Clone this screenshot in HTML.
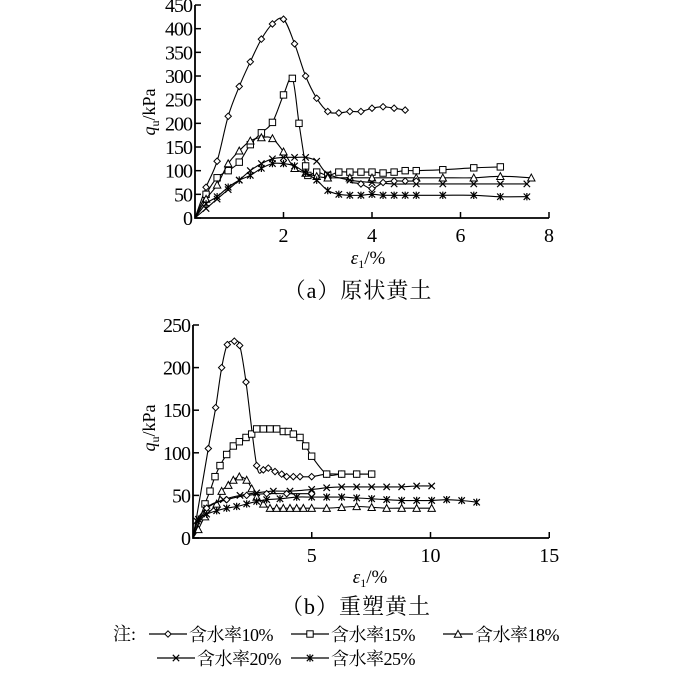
<!DOCTYPE html>
<html><head><meta charset="utf-8"><style>
html,body{margin:0;padding:0;background:#fff;}
svg{display:block;}
text{font-family:"Liberation Serif","Noto Serif CJK SC",serif;fill:#000;}
</style></head><body>
<svg id="s" width="700" height="675" viewBox="0 0 700 675" xmlns="http://www.w3.org/2000/svg">
<g id="g"></g>
</svg>
<script>
const NS="http://www.w3.org/2000/svg";const g=document.getElementById('g');
function el(t,a,txt){const e=document.createElementNS(NS,t);for(const k in a)e.setAttribute(k,a[k]);if(txt!==undefined)e.textContent=txt;g.appendChild(e);return e;}
function marker(type,x,y){const s=3.2;
 if(type=='d')el('polygon',{points:`${x},${y-s} ${x+s},${y} ${x},${y+s} ${x-s},${y}`,fill:'#fff',stroke:'#000','stroke-width':1});
 if(type=='s')el('rect',{x:x-s,y:y-s,width:2*s,height:2*s,fill:'#fff',stroke:'#000','stroke-width':1});
 if(type=='t')el('polygon',{points:`${x},${y-s-0.5} ${x+s+0.5},${y+s} ${x-s-0.5},${y+s}`,fill:'#fff',stroke:'#000','stroke-width':1});
 if(type=='x'){el('path',{d:`M${x-s},${y-s}L${x+s},${y+s}M${x+s},${y-s}L${x-s},${y+s}`,stroke:'#000','stroke-width':1.2});}
 if(type=='*'){el('path',{d:`M${x-s},${y-s}L${x+s},${y+s}M${x+s},${y-s}L${x-s},${y+s}M${x},${y-s-0.5}L${x},${y+s+0.5}`,stroke:'#000','stroke-width':1.2});}
}
function series(pts,type,X,Y){
 const p=pts.map(q=>[X(q[0]),Y(q[1])]);
 let d='M'+p[0][0]+','+p[0][1];
 for(let i=0;i<p.length-1;i++){const p0=p[i-1]||p[i],p1=p[i],p2=p[i+1],p3=p[i+2]||p2;
  const c1=[p1[0]+(p2[0]-p0[0])/6,p1[1]+(p2[1]-p0[1])/6],c2=[p2[0]-(p3[0]-p1[0])/6,p2[1]-(p3[1]-p1[1])/6];
  d+=`C${c1[0].toFixed(1)},${c1[1].toFixed(1)} ${c2[0].toFixed(1)},${c2[1].toFixed(1)} ${p2[0].toFixed(1)},${p2[1].toFixed(1)}`;}
 el('path',{d:d,fill:'none',stroke:'#000','stroke-width':1.1});
 p.forEach((q,i)=>{if(i>0)marker(type,q[0],q[1]);});
}
function axes(x0,y0,x1,y1,xt,yt,X,Y){
 el('path',{d:`M${x0},${y1}L${x0},${y0}L${x1},${y0}`,stroke:'#000','stroke-width':1.8,fill:'none'});
 xt.forEach(v=>{const x=X(v);el('line',{x1:x,y1:y0,x2:x,y2:y0-6,stroke:'#000','stroke-width':1.5});el('text',{x:x,y:y0+24,'text-anchor':'middle','font-size':20},String(v));});
 yt.forEach(v=>{const y=Y(v);el('line',{x1:x0,y1:y,x2:x0+6,y2:y,stroke:'#000','stroke-width':1.5});el('text',{x:x0-3,y:y+7,'text-anchor':'end','font-size':20,'letter-spacing':-1},String(v));});
}
// TOP
{const X=v=>195+v*44.25,Y=v=>218-v*0.4733;
 axes(195,218,549,5,[2,4,6,8],[0,50,100,150,200,250,300,350,400,450],X,Y);
 series([[0,0],[0.25,65],[0.5,120],[0.75,215],[1,278],[1.25,330],[1.5,378],[1.75,410],[2,420],[2.25,368],[2.5,300],[2.75,253],[3,225],[3.25,222],[3.5,225],[3.75,225],[4,232],[4.25,235],[4.5,232],[4.75,228]],'d',X,Y);
 series([[0,0],[0.25,50],[0.5,85],[0.75,100],[1,118],[1.25,155],[1.5,180],[1.75,202],[2,260],[2.2,295],[2.35,200],[2.5,110],[2.55,90],[2.75,97],[3,90],[3.25,97],[3.5,97],[3.75,97],[4,97],[4.25,95],[4.5,97],[4.75,100],[5,100],[5.6,102],[6.3,106],[6.9,108]],'s',X,Y);
 series([[0,0],[0.25,40],[0.5,70],[0.75,115],[1,142],[1.25,163],[1.5,170],[1.75,168],[2,140],[2.25,105],[2.5,95],[2.75,88],[3,85],[3.5,85],[4,85],[5,85],[5.6,85],[6.3,85],[6.9,88],[7.6,85]],'t',X,Y);
 series([[0,0],[0.25,20],[0.5,40],[0.75,60],[1,80],[1.25,100],[1.5,115],[1.75,125],[2,128],[2.25,128],[2.5,128],[2.75,120],[3,93],[3.5,80],[4,75],[4.5,72],[5,72],[5.6,72],[6.3,72],[6.9,72],[7.5,72]],'x',X,Y);
 series([[0,0],[0.25,30],[0.5,45],[0.75,65],[1,80],[1.25,90],[1.5,105],[1.75,115],[2,115],[2.25,110],[2.5,95],[2.75,80],[3,58],[3.25,50],[3.5,48],[3.75,48],[4,50],[4.25,48],[4.5,48],[4.75,48],[5,48],[5.6,48],[6.3,48],[6.9,45],[7.5,45]],'*',X,Y);
 series([[3.5,75],[3.75,72],[4,62],[4.25,75],[4.5,78],[4.75,78],[5,78]],'d',X,Y);
 const t=el('text',{x:0,y:0,'font-size':18,transform:'translate(155,112) rotate(-90)','text-anchor':'middle'});
 t.innerHTML='<tspan font-style="italic">q</tspan><tspan font-size="12" dy="4">u</tspan><tspan dy="-4">/kPa</tspan>';
 const e=el('text',{x:368,y:264,'font-size':19,'text-anchor':'middle'});e.innerHTML='<tspan font-style="italic">ε</tspan><tspan font-size="12" dy="4">1</tspan><tspan dy="-4">/%</tspan>';
 el('text',{x:358,y:298,'font-size':22,'text-anchor':'middle','letter-spacing':1},'（a）原状黄土');
}
// BOTTOM
{const X=v=>193+v*23.75,Y=v=>538-v*0.852;
 axes(193,538,549,325,[5,10,15],[0,50,100,150,200,250],X,Y);
 const cx=zx=>(zx/3-53)/23.75;
 const cv=a=>[[0,0]].concat(a.map(q=>[cx(q[0]),q[1]]));
 series(cv([[205,105],[227,153],[245,200],[262,227],[283,231],[299,226],[318,183],[350,85],[370,80],[385,82],[405,78],[425,75],[440,72],[460,72],[480,72],[515,72],[560,75],[605,75],[650,75],[695,75]]),'d',X,Y);
 series(cv([[195,40],[210,55],[225,72],[240,85],[260,98],[280,108],[298,113],[318,118],[335,122],[350,128],[370,128],[390,128],[410,128],[430,125],[445,125],[460,122],[480,118],[497,108],[515,96],[560,75],[605,75],[650,75],[695,75]]),'s',X,Y);
 series(cv([[175,10],[195,25],[230,40],[245,55],[265,62],[280,68],[298,72],[320,68],[335,58],[350,48],[370,40],[390,35],[410,35],[430,35],[450,35],[470,35],[490,35],[515,35],[560,35],[605,36],[650,37],[695,36],[740,35],[785,35],[830,35],[875,35]]),'t',X,Y);
 series(cv([[170,20],[200,35],[250,45],[300,50],[350,53],[400,55],[450,55],[515,57],[560,59],[605,60],[650,60],[695,60],[740,60],[785,60],[830,61],[875,61]]),'x',X,Y);
 series(cv([[175,22],[200,28],[230,32],[260,35],[290,37],[320,40],[350,43],[380,45],[420,46],[470,48],[515,48],[560,48],[605,48],[650,47],[695,46],[740,45],[785,44],[830,44],[875,44],[920,45],[965,44],[1010,42]]),'*',X,Y);
 series(cv([[200,35],[260,45],[320,50],[380,52],[440,52],[515,52]]),'d',X,Y);
 const t=el('text',{x:0,y:0,'font-size':18,transform:'translate(155,428) rotate(-90)','text-anchor':'middle'});
 t.innerHTML='<tspan font-style="italic">q</tspan><tspan font-size="12" dy="4">u</tspan><tspan dy="-4">/kPa</tspan>';
 const e=el('text',{x:370,y:583,'font-size':19,'text-anchor':'middle'});e.innerHTML='<tspan font-style="italic">ε</tspan><tspan font-size="12" dy="4">1</tspan><tspan dy="-4">/%</tspan>';
 el('text',{x:356,y:614,'font-size':22,'text-anchor':'middle','letter-spacing':1},'（b）重塑黄土');
}
// LEGEND
el('text',{x:113,y:640,'font-size':18},'注:');
function leg(x,y,type,label,w){el('line',{x1:x,y1:y,x2:x+w,y2:y,stroke:'#000','stroke-width':1.2});
 marker(type,x+w/2,y);
 el('text',{x:x+w+2,y:y+7,'font-size':18,'letter-spacing':-0.5},label);}
leg(149,634,'d','含水率10%',38);leg(291,634,'s','含水率15%',38);leg(443,634,'t','含水率18%',30);
leg(157,658,'x','含水率20%',38);leg(291,658,'*','含水率25%',38);
</script>
</body></html>
